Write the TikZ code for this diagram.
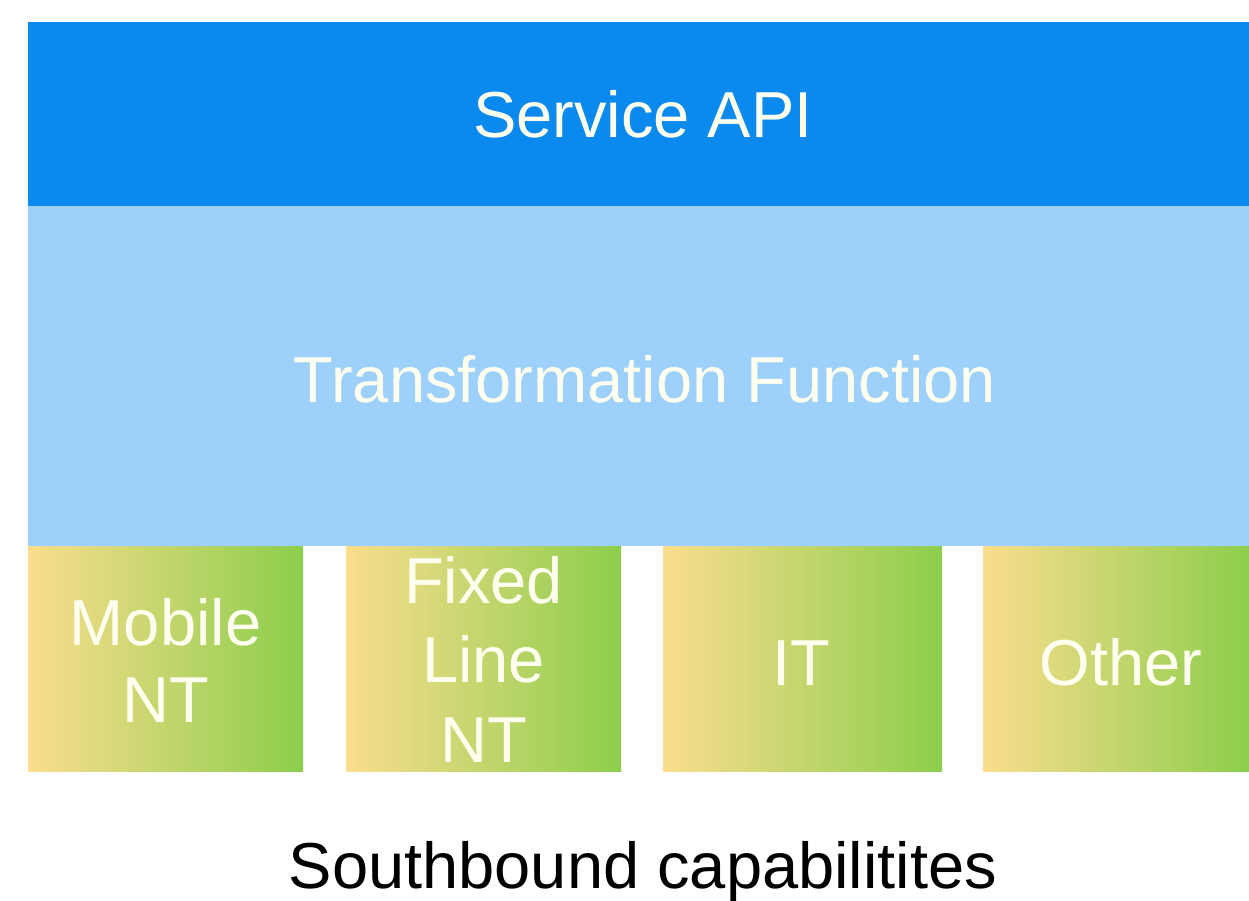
\documentclass[tikz,border=0pt]{standalone}
\usepackage{fontspec}
\setmainfont{Liberation Sans}
\definecolor{apiblue}{RGB}{10,137,238}
\definecolor{tfblue}{RGB}{157,208,250}
\definecolor{gleft}{RGB}{250,221,142}
\definecolor{gright}{RGB}{140,206,76}
\definecolor{wtext}{RGB}{255,255,240}
\begin{document}
\begin{tikzpicture}[x=1pt,y=-1pt,
  layer/.style={draw=none,inner sep=0pt,outer sep=0pt,rectangle},
  capbox/.style={layer,left color=gleft,right color=gright},
  big/.style={font=\fontsize{65}{78}\selectfont,inner sep=0pt,text=wtext},
]
\useasboundingbox[fill=white] (0,0) rectangle (1249,900);
% layers
\node[layer,fill=apiblue,minimum width=1221pt,minimum height=184pt,anchor=north west] (api) at (28,22) {};
\node[layer,fill=tfblue,minimum width=1221pt,minimum height=340pt,anchor=north west] (tf) at (28,206) {};
\node[capbox,minimum width=275pt,minimum height=225pt,anchor=north west] (mob) at (28,546) {};
\node[capbox,minimum width=275pt,minimum height=225pt,anchor=north west] (fix) at (346,546) {};
\node[capbox,minimum width=279pt,minimum height=225pt,anchor=north west] (it) at (663,546) {};
\node[capbox,minimum width=266pt,minimum height=225pt,anchor=north west] (oth) at (983,546) {};
% texts
\node[big,anchor=base] (apit) at (643,137) {Service API};
\node[big,anchor=base] (tft) at (645,402) {Transformation Function};
\node[big,anchor=base] (mob1) at (mob.center |- 0,645) {Mobile};
\node[big,anchor=base] (mob2) at (mob.center |- 0,722) {NT};
\node[big,anchor=base] (fix1) at (fix.center |- 0,603) {Fixed};
\node[big,anchor=base] (fix2) at (fix.center |- 0,682) {Line};
\node[big,anchor=base] (fix3) at (fix.center |- 0,762) {NT};
\node[big,anchor=base] (itt) at (801,685) {IT};
\node[big,anchor=base] (otht) at (1121,685) {Other};
\node[big,anchor=base,text=black] (south) at (643,888) {Southbound capabilitites};
\end{tikzpicture}
\end{document}
